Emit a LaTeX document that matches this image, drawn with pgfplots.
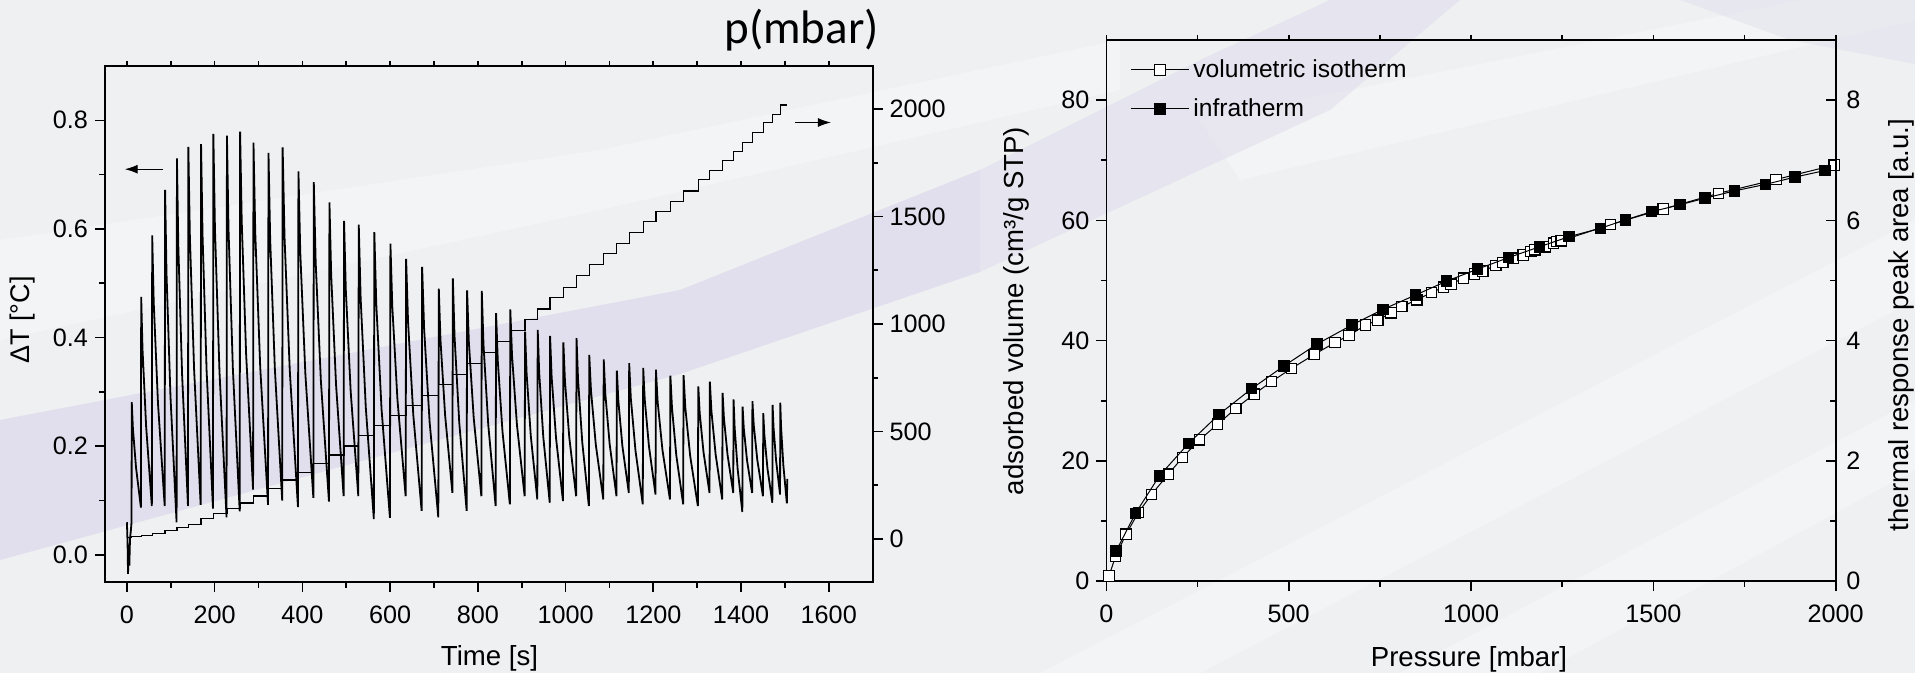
\documentclass[border=0pt]{standalone}
\usepackage{fontspec}
\setmainfont{Liberation Sans}
\newfontfamily\calib{Carlito}
\usepackage{pgfplots}
\pgfplotsset{compat=1.18}
\usetikzlibrary{arrows.meta}
\definecolor{bg}{RGB}{238,240,242}
\definecolor{lav}{RGB}{225,223,237}
\pgfplotsset{
  myaxis/.style={scale only axis, tick align=outside,
    major tick length=5pt, minor tick length=2.8pt,
    axis line style={line width=0.9pt},
    every tick/.style={black, line width=0.8pt},
    tick label style={font=\fontsize{12.6}{15}\selectfont},
    xticklabel style={yshift=-3.5pt},
    /pgf/number format/assume math mode=true,
    /pgf/number format/1000 sep={}},
  topaxis/.style={scale only axis, axis y line=none, axis x line*=top,
    tick align=outside, major tick length=2.6pt, minor tick length=2.6pt,
    axis line style={line width=0.9pt},
    every tick/.style={black, line width=0.8pt}, xticklabels={}},
}
\begin{document}
\begin{tikzpicture}
\path[use as bounding box] (0,0) rectangle (957.5pt,-336.5pt);
\fill[bg] (0,0) rectangle (957.5pt,-336.5pt);
\fill[white,opacity=0.3] (0,-120pt) -- (300pt,-75pt) -- (560pt,-20pt) -- (560pt,-45pt) -- (300pt,-105pt) -- (0,-170pt) -- cycle;
\fill[white,opacity=0.3] (520pt,-336.5pt) -- (957.5pt,-110pt) -- (957.5pt,-150pt) -- (600pt,-336.5pt) -- cycle;
\fill[white,opacity=0.3] (700pt,-336.5pt) -- (957.5pt,-200pt) -- (957.5pt,-235pt) -- (770pt,-336.5pt) -- cycle;
\fill[white,opacity=0.3] (600pt,-60pt) -- (900pt,0pt) -- (957.5pt,0pt) -- (957.5pt,-10pt) -- (620pt,-90pt) -- cycle;
\fill[lav] (0,-210pt) -- (340pt,-145pt) -- (490pt,-85pt) -- (490pt,-136pt) -- (340pt,-187pt) -- (0,-280pt) -- cycle;
\fill[lav,opacity=0.6] (490pt,-85pt) -- (600pt,-30pt) -- (665pt,0pt) -- (730pt,0pt) -- (665pt,-55pt) -- (490pt,-136pt) -- cycle;
\fill[lav,opacity=0.5] (840pt,0pt) -- (957.5pt,0pt) -- (957.5pt,-32pt) -- (895pt,-20pt) -- cycle;

% ---------------- left plot ----------------
\begin{axis}[myaxis,
  at={(52.5pt,-291pt)}, anchor=south west,
  width=383.8pt, height=258pt,
  xmin=-50, xmax=1700, ymin=-0.05, ymax=0.9,
  xtick={0,200,400,600,800,1000,1200,1400,1600}, minor x tick num=1,
  ytick={0,0.2,0.4,0.6,0.8}, minor y tick num=1,
  yticklabel style={/pgf/number format/.cd, fixed, fixed zerofill, precision=1},
  xtick pos=left, ytick pos=left,
]
\addplot[black, line width=0.9pt] coordinates {
(0,0.060) (1.5,0.020) (2.5,-0.035) (4,0.010) (5.5,-0.020) (7,0.030) (9,0.045) (10.5,0.060)
(11,0.281) (13.6,0.233) (20.7,0.161) (31.9,0.087)
(32.5,0.475) (35.5,0.379) (43.8,0.236) (56.8,0.090)
(57.6,0.588) (61.1,0.464) (70.8,0.279) (86.1,0.090)
(87,0.672) (90.2,0.519) (99.2,0.293) (113.2,0.060)
(114,0.730) (117.1,0.570) (125.7,0.333) (139.2,0.090)
(140,0.751) (143.5,0.586) (153.1,0.342) (168.1,0.092)
(169,0.756) (172.4,0.588) (181.6,0.340) (196.2,0.085)
(197,0.775) (200.7,0.599) (211.0,0.337) (227.1,0.069)
(228,0.772) (231.6,0.599) (241.5,0.343) (257.1,0.080)
(258,0.779) (261.7,0.614) (271.7,0.370) (287.6,0.120)
(288.5,0.759) (292.6,0.592) (303.9,0.345) (321.7,0.092)
(322.7,0.740) (326.6,0.580) (337.2,0.343) (354.0,0.100)
(355,0.750) (359.3,0.585) (371.2,0.340) (389.9,0.088)
(391,0.706) (395.2,0.556) (406.8,0.333) (425.0,0.105)
(426,0.686) (430.3,0.539) (442.1,0.321) (460.6,0.098)
(461.7,0.649) (465.7,0.514) (476.7,0.314) (494.0,0.108)
(495,0.615) (499.0,0.488) (510.1,0.301) (527.5,0.108)
(528.5,0.608) (532.8,0.473) (544.5,0.272) (562.9,0.066)
(564,0.594) (568.4,0.463) (580.5,0.268) (599.6,0.068)
(600.7,0.573) (605.0,0.457) (616.8,0.285) (635.4,0.108)
(636.5,0.545) (640.9,0.429) (652.9,0.257) (671.9,0.081)
(673,0.530) (677.6,0.415) (690.1,0.244) (709.9,0.069)
(711,0.490) (714.8,0.396) (725.4,0.257) (742.0,0.114)
(743,0.509) (746.9,0.402) (757.6,0.244) (774.5,0.081)
(775.5,0.487) (779.5,0.392) (790.6,0.252) (808.0,0.108)
(809,0.486) (812.9,0.387) (823.7,0.240) (840.6,0.090)
(841.6,0.445) (845.5,0.357) (856.2,0.227) (873.0,0.093)
(874,0.452) (878.0,0.366) (889.2,0.239) (906.7,0.108)
(907.7,0.411) (911.2,0.334) (920.7,0.219) (935.6,0.102)
(936.5,0.414) (939.9,0.335) (949.2,0.217) (963.9,0.096)
(964.7,0.403) (968.3,0.327) (978.3,0.215) (994.1,0.099)
(995,0.391) (998.6,0.320) (1008.5,0.216) (1024.1,0.108)
(1025,0.399) (1028.5,0.322) (1038.1,0.207) (1053.1,0.090)
(1054,0.368) (1058.0,0.302) (1068.9,0.203) (1086.0,0.102)
(1087,0.360) (1090.6,0.297) (1100.5,0.204) (1116.1,0.108)
(1117,0.339) (1120.4,0.283) (1129.6,0.200) (1144.2,0.114)
(1145,0.353) (1148.8,0.288) (1159.4,0.192) (1176.0,0.093)
(1177,0.344) (1180.5,0.286) (1190.1,0.200) (1205.1,0.111)
(1206,0.341) (1210.0,0.281) (1220.9,0.193) (1238.0,0.102)
(1239,0.330) (1242.6,0.271) (1252.5,0.183) (1268.1,0.093)
(1269,0.331) (1273.0,0.271) (1284.1,0.182) (1301.6,0.090)
(1302.6,0.310) (1305.8,0.261) (1314.5,0.189) (1328.2,0.114)
(1329,0.319) (1332.5,0.265) (1342.1,0.185) (1357.1,0.102)
(1358,0.298) (1361.0,0.252) (1369.3,0.184) (1382.3,0.114)
(1383,0.286) (1385.5,0.234) (1392.3,0.158) (1403.0,0.079)
(1403.6,0.273) (1406.3,0.233) (1413.7,0.174) (1425.3,0.114)
(1426,0.283) (1429.0,0.239) (1437.1,0.175) (1450.0,0.108)
(1450.7,0.261) (1453.3,0.220) (1460.3,0.159) (1471.4,0.096)
(1472,0.276) (1474.1,0.235) (1479.9,0.174) (1489.0,0.111)
(1489.5,0.280) (1491.4,0.234) (1496.5,0.165) (1504.5,0.095)
(1505.5,0.140)
};
\draw[-{Latex[length=6.5pt,width=4.5pt]}, line width=0.6pt] (axis cs:82,0.71) -- (axis cs:-5,0.71);
\draw[-{Latex[length=6.5pt,width=4.5pt]}, line width=0.6pt] (axis cs:1524,0.796) -- (axis cs:1605,0.796);
\end{axis}
\begin{axis}[topaxis,
  at={(52.5pt,-291pt)}, anchor=south west,
  width=383.8pt, height=258pt,
  xmin=-50, xmax=1700, ymin=0, ymax=1,
  xtick={0,200,400,600,800,1000,1200,1400,1600}, minor x tick num=1,
]
\end{axis}
\begin{axis}[myaxis,
  at={(52.5pt,-291pt)}, anchor=south west,
  width=383.8pt, height=258pt,
  xmin=-50, xmax=1700, ymin=-200, ymax=2200,
  axis x line=none, axis y line*=right,
  ytick={0,500,1000,1500,2000}, minor y tick num=1,
]
\addplot[black, line width=0.6pt, const plot] coordinates {
(3,8) (11,12) (32.5,16) (57.6,27) (87,39) (114,55) (140,68) (169,94) (197,118)
(228,141) (258,167) (288.5,200) (322.7,235) (355,274) (391,308) (426,352)
(461.7,391) (495,433) (528.5,480) (564,527) (600.7,574) (636.5,620) (673,667)
(711,719) (743,765) (775.5,817) (809,867) (841.6,917) (874,968) (907.7,1020)
(936.5,1070) (964.7,1123) (995,1171) (1025,1226) (1054,1276) (1087,1327)
(1117,1374) (1145,1426) (1177,1476) (1206,1522) (1239,1569) (1269,1619)
(1302.6,1671) (1329,1713) (1358,1760) (1383,1803) (1403.6,1846) (1426,1889)
(1450.7,1936) (1472,1975) (1489.5,2019) (1505,2019)
};
\end{axis}

% ---------------- right plot ----------------
\begin{axis}[myaxis,
  at={(553.2pt,-290.6pt)}, anchor=south west,
  width=364.65pt, height=270.6pt,
  xmin=0, xmax=2000, ymin=0, ymax=90,
  xtick={0,500,1000,1500,2000}, minor x tick num=1,
  ytick={0,20,40,60,80}, minor y tick num=1,
  xtick pos=left, ytick pos=left,
  legend style={at={(0.0324,0.972)}, anchor=north west, draw=none, fill=none,
    inner sep=0pt, font=\fontsize{12.3}{15}\selectfont, row sep=5pt,
    nodes={inner sep=2pt},
    /tikz/every even column/.append style={column sep=3.5pt}},
  legend cell align=left,
  legend image code/.code={\draw[mark repeat=2, mark phase=2] plot coordinates {(0pt,0pt) (14.5pt,0pt) (29pt,0pt)};},
]
\addplot[black, line width=0.5pt, mark=square*, mark size=2.6pt,
  mark options={fill=white, draw=black, line width=0.6pt, solid}] coordinates {
(7,0.86) (25.4,4.19) (53.7,7.8) (87.6,11.4) (124,14.45) (170,17.8) (209,20.6)
(255,23.5) (305,26.1) (355,28.75) (405,31.1) (453,33.2) (508,35.4) (570,37.7)
(627,39.7) (665,40.85) (711,42.6) (744,43.4) (780.5,44.65) (810,45.65) (851,46.8)
(892,48.0) (924,48.9) (945,49.4) (979,50.4) (1009,51.1) (1032,51.6) (1068,52.5)
(1087,53.0) (1116,53.7) (1143,54.25) (1164,54.8) (1175,55.1) (1203,55.6)
(1226,56.2) (1235,56.5) (1247,56.6) (1382,59.3) (1527,61.9) (1678,64.5)
(1836,66.8) (1996,69.2)
};
\addlegendentry{volumetric isotherm}
\addlegendimage{black, line width=0.5pt, mark=square*, mark size=2.6pt, mark options={fill=black, solid}}
\addlegendentry{infratherm}
\end{axis}
\begin{axis}[topaxis,
  at={(553.2pt,-290.6pt)}, anchor=south west,
  width=364.65pt, height=270.6pt,
  xmin=0, xmax=2000, ymin=0, ymax=1,
  xtick={0,500,1000,1500,2000}, minor x tick num=1,
]
\end{axis}
\begin{axis}[myaxis,
  at={(553.2pt,-290.6pt)}, anchor=south west,
  width=364.65pt, height=270.6pt,
  xmin=0, xmax=2000, ymin=0, ymax=9,
  axis x line=none, axis y line*=right, tick align=inside,
  ytick={0,2,4,6,8}, minor y tick num=1,
  yticklabel style={xshift=1.8pt},
]
\addplot[black, line width=0.5pt, mark=square*, mark size=2.6pt,
  mark options={fill=black, solid}] coordinates {
(26.3,0.500) (80,1.130) (145,1.750) (225,2.290) (309,2.775) (398,3.200)
(487,3.580) (578,3.945) (673,4.260) (758,4.520) (848,4.760) (933,4.990)
(1018,5.190) (1102,5.380) (1187,5.560) (1269,5.730) (1355,5.870) (1424,6.010)
(1495,6.145) (1573,6.260) (1642,6.370) (1722,6.490) (1808,6.600) (1888,6.720)
(1971,6.830)
};
\end{axis}

% ---------------- labels ----------------
\node[font=\calib\fontsize{23.5}{28}\selectfont] at (400.75pt,-14.85pt) {p(mbar)};
\node[rotate=90, font=\fontsize{13.5}{16}\selectfont] at (11.5pt,-160pt) {ΔT [°C]};
\node[font=\fontsize{13.8}{16}\selectfont] at (244.75pt,-329pt) {Time [s]};
\node[font=\fontsize{13.8}{16}\selectfont] at (734.5pt,-329.5pt) {Pressure [mbar]};
\node[rotate=90, font=\fontsize{13.8}{16}\selectfont] at (508pt,-155.5pt) {adsorbed volume (cm³/g STP)};
\node[rotate=90, font=\fontsize{13.8}{16}\selectfont] at (950.5pt,-162.5pt) {thermal response peak area [a.u.]};
\end{tikzpicture}
\end{document}
